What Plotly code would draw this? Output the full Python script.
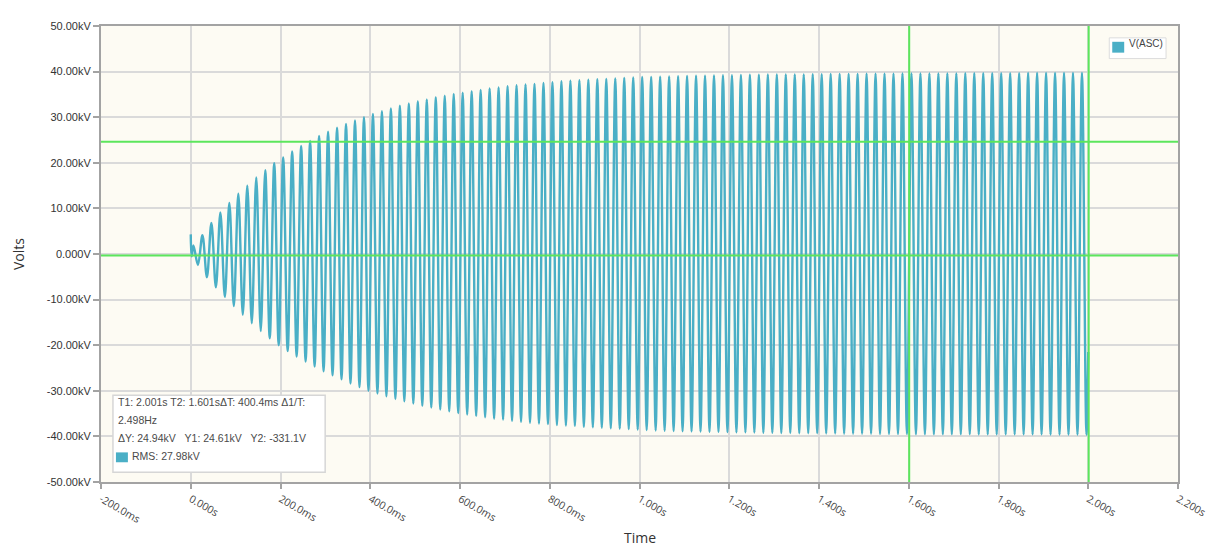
import plotly.graph_objects as go

# ---------------- data ----------------
# start of the trace: (time ms, value kV)
start_t_ms = [0, 2]
start_v_kv = [4.3, -0.5]

# positive peak of each 50 Hz cycle (kV), cycle k peaks at ~6 + 20k ms
pos_peaks_kv = [
    1.9, 4.1, 6.8, 9.1, 11.2, 13.2, 15.0, 16.8, 18.4, 19.9,
    21.2, 22.5, 23.7, 24.8, 25.9, 26.8, 27.7, 28.5, 29.3, 30.0,
    30.7, 31.3, 31.9, 32.5, 33.0, 33.5, 33.9, 34.4, 34.7, 35.1,
    35.4, 35.7, 36.0, 36.3, 36.5, 36.8, 37.0, 37.2, 37.3, 37.5,
    37.7, 37.9, 38.0, 38.1, 38.2, 38.35, 38.4, 38.5, 38.6, 38.7,
    38.8, 38.85, 38.9, 38.95, 39.0, 39.05, 39.1, 39.1, 39.15, 39.2,
    39.2, 39.25, 39.3, 39.3, 39.35, 39.35, 39.4, 39.4, 39.4, 39.45,
    39.45, 39.5, 39.5, 39.5, 39.5, 39.55, 39.55, 39.55, 39.55, 39.6,
    39.6, 39.6, 39.6, 39.6, 39.6, 39.6, 39.65, 39.65, 39.65, 39.65,
    39.65, 39.65, 39.65, 39.7, 39.7, 39.7, 39.7, 39.7, 39.7, 39.7,
]
# negative trough of each cycle (kV), cycle k troughs at ~16 + 20k ms
neg_peaks_kv = [
    -2.4, -5.1, -7.3, -9.4, -11.4, -13.3, -15.2, -16.9, -18.5, -20.0,
    -21.3, -22.5, -23.6, -24.7, -25.7, -26.6, -27.5, -28.4, -29.2, -30.0,
    -30.6, -31.2, -31.8, -32.3, -32.8, -33.3, -33.7, -34.1, -34.5, -34.9,
    -35.2, -35.5, -35.8, -36.1, -36.3, -36.6, -36.8, -37.0, -37.2, -37.3,
    -37.5, -37.6, -37.7, -37.9, -38.0, -38.1, -38.2, -38.3, -38.4, -38.5,
    -38.6, -38.7, -38.75, -38.8, -38.85, -38.9, -38.95, -39.0, -39.0, -39.05,
    -39.1, -39.1, -39.15, -39.2, -39.2, -39.25, -39.25, -39.3, -39.3, -39.3,
    -39.35, -39.35, -39.4, -39.4, -39.4, -39.4, -39.45, -39.45, -39.45, -39.45,
    -39.5, -39.5, -39.5, -39.5, -39.5, -39.5, -39.5, -39.55, -39.55, -39.55,
    -39.55, -39.55, -39.55, -39.55, -39.55, -39.6, -39.6, -39.6, -39.6, -39.6,
]
period_ms = 20.0
pos_phase_ms = 6.0
neg_phase_ms = 16.0
end_t_ms = 2000
end_v_kv = -21.5

series_name = "V(ASC)"

# cursors
T1_s, T2_s = 2.001, 1.601
Y1_kv, Y2_kv = 24.61, -0.3311

x_tickvals = [-0.2, 0.0, 0.2, 0.4, 0.6, 0.8, 1.0, 1.2, 1.4, 1.6, 1.8, 2.0, 2.2]
x_ticktext = ["-200.0ms", "0.000s", "200.0ms", "400.0ms", "600.0ms", "800.0ms",
              "1.000s", "1.200s", "1.400s", "1.600s", "1.800s", "2.000s", "2.200s"]
y_tickvals = [50, 40, 30, 20, 10, 0, -10, -20, -30, -40, -50]
y_ticktext = ["50.00kV", "40.00kV", "30.00kV", "20.00kV", "10.00kV", "0.000V",
              "-10.00kV", "-20.00kV", "-30.00kV", "-40.00kV", "-50.00kV"]

info_lines = [
    "T1: 2.001s T2: 1.601s\u0394T: 400.4ms \u03941/T:",
    "2.498Hz",
    "\u0394Y: 24.94kV &nbsp;&nbsp;Y1: 24.61kV &nbsp;&nbsp;Y2: -331.1V",
    "RMS: 27.98kV",
]

# ---------------- build trace ----------------
t_ms = list(start_t_ms)
v_kv = list(start_v_kv)
for k, (p, n) in enumerate(zip(pos_peaks_kv, neg_peaks_kv)):
    t_ms += [pos_phase_ms + period_ms * k, neg_phase_ms + period_ms * k]
    v_kv += [p, n]
t_ms.append(end_t_ms)
v_kv.append(end_v_kv)
t_s = [t / 1000.0 for t in t_ms]

TEAL = "#4AAFC6"
GREEN = "#5CE65C"
AXIS = "#A3A3A3"
GRID = "#DADADA"

fig = go.Figure()
fig.add_trace(go.Scatter(
    x=t_s, y=v_kv, mode="lines", name=series_name,
    line=dict(color=TEAL, width=2.4, shape="spline", smoothing=1.0),
    showlegend=False, hoverinfo="skip",
))

# cursor lines
for xv in (T1_s, T2_s):
    fig.add_shape(type="line", xref="x", yref="paper", x0=xv, x1=xv, y0=0, y1=1,
                  line=dict(color=GREEN, width=2))
for yv in (Y1_kv, Y2_kv):
    fig.add_shape(type="line", xref="paper", yref="y", x0=0, x1=1, y0=yv, y1=yv,
                  line=dict(color=GREEN, width=2))

# plot area geometry in page pixels (page has an 8px body margin)
OFF = 8
L, R, T, B = 101, 1182, 20, 482
W, H = R - L, B - T


def px(xp):
    return (xp - L) / W


def py(yp):
    return (B - yp) / H


# info box
fig.add_shape(type="rect", xref="paper", yref="paper",
              x0=px(113), x1=px(326), y0=py(472), y1=py(394),
              fillcolor="white", line=dict(color="#D6D6D6", width=1.5), layer="above")
line_y = [401, 419.5, 437.5, 456]
for i, (txt, yy) in enumerate(zip(info_lines, line_y)):
    x0 = 130 if i == 3 else 116
    fig.add_annotation(xref="paper", yref="paper", x=px(x0), y=py(yy),
                       xanchor="left", yanchor="middle", showarrow=False,
                       text=txt, font=dict(family="Liberation Sans, Arial", size=10.5, color="#4A4A4A"))
fig.add_shape(type="rect", xref="paper", yref="paper",
              x0=px(116), x1=px(128), y0=py(462), y1=py(452),
              fillcolor=TEAL, line=dict(width=0), layer="above")

# legend box (drawn compactly like the reference)
fig.add_shape(type="rect", xref="paper", yref="paper",
              x0=px(1113), x1=px(1170), y0=py(53), y1=py(32),
              fillcolor="white", line=dict(color="#DCDCDC", width=1), layer="above")
fig.add_shape(type="rect", xref="paper", yref="paper",
              x0=px(1116), x1=px(1128), y0=py(47), y1=py(36),
              fillcolor=TEAL, line=dict(width=0), layer="above")
fig.add_annotation(xref="paper", yref="paper", x=px(1131), y=py(38),
                   xanchor="left", yanchor="middle", showarrow=False, text=series_name,
                   font=dict(family="Liberation Sans, Arial", size=10, color="#444444"))

# axis titles
fig.add_annotation(xref="paper", yref="paper", x=0, y=0.5, xshift=18 - L,
                   textangle=-90, showarrow=False, text="Volts",
                   xanchor="center", yanchor="middle",
                   font=dict(family="Open Sans", size=14, color="#333333"))
fig.add_annotation(xref="paper", yref="paper", x=0.5, y=0, yshift=-(537 - B),
                   showarrow=False, text="Time", xanchor="center", yanchor="middle",
                   font=dict(family="Open Sans", size=14, color="#333333"))

fig.update_layout(
    width=1220 - OFF, height=547 - OFF,
    margin=dict(l=L - OFF, r=1220 - R, t=T - OFF, b=547 - B, pad=0),
    paper_bgcolor="white", plot_bgcolor="#FDFBF3",
    showlegend=False,
)
fig.update_xaxes(
    range=[-0.2, 2.2], tickvals=x_tickvals, ticktext=x_ticktext, tickangle=30,
    tickfont=dict(family="Open Sans", size=10.5, color="#444444"),
    showgrid=True, gridcolor=GRID, gridwidth=1.5, zeroline=False,
    showline=True, linecolor=AXIS, linewidth=2, mirror=True,
    ticks="outside", ticklen=5, tickcolor=AXIS, tickwidth=1.5,
)
fig.update_yaxes(
    range=[-50, 50], tickvals=y_tickvals, ticktext=y_ticktext,
    tickfont=dict(family="Liberation Sans, Arial", size=11, color="#333333"),
    showgrid=True, gridcolor=GRID, gridwidth=1.5, zeroline=False,
    showline=True, linecolor=AXIS, linewidth=2, mirror=True,
    ticks="outside", ticklen=6, tickcolor=AXIS, tickwidth=1.5,
)

fig.write_html("out.html")
